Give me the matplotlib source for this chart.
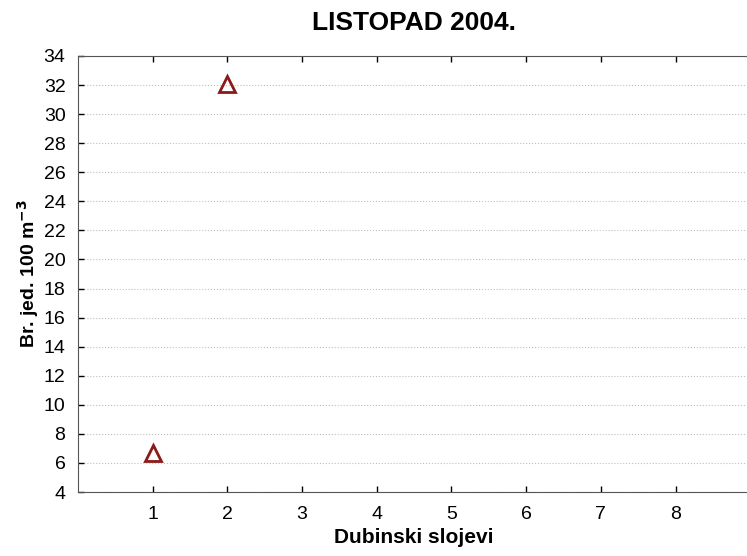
import numpy as np
import matplotlib.pyplot as plt

plt.rcParams['font.family'] = ['Liberation Sans', 'DejaVu Sans']

# depth layer vs. count
layers = [1, 2]
counts = [6.7, 32.1]

xticks = [1, 2, 3, 4, 5, 6, 7, 8]
yticks = np.arange(4, 35, 2)

fig = plt.figure(figsize=(7.47, 5.56), dpi=100)
ax = fig.add_axes([0.1044, 0.1151, 0.9, 0.7842])

ax.plot(layers, counts, linestyle='none', marker='^', markersize=12,
        markerfacecolor='none', markeredgecolor='#8b1a1a', markeredgewidth=2.0)

ax.set_xlim(0, 9)
ax.set_ylim(4, 34)
ax.set_xticks(xticks)
ax.set_yticks(yticks)
ax.yaxis.grid(True, linestyle=':', color='#c0c0c0', linewidth=0.8)
ax.tick_params(direction='in', length=4, width=1, labelsize=14, top=True,
               labeltop=False, pad=9)
ax.tick_params(axis='x', pad=10)
for s in ax.spines.values():
    s.set_color('#555555')
ax.spines['right'].set_visible(False)

ax.set_title('LISTOPAD 2004.', fontsize=19, fontweight='bold', pad=19)
ax.set_xlabel('Dubinski slojevi', fontsize=15, fontweight='bold', labelpad=4)
ax.set_ylabel('Br. jed. 100 m$^{\\mathbf{-3}}$', fontsize=14, fontweight='bold', labelpad=2)

fig.savefig('out.png', dpi=100)
